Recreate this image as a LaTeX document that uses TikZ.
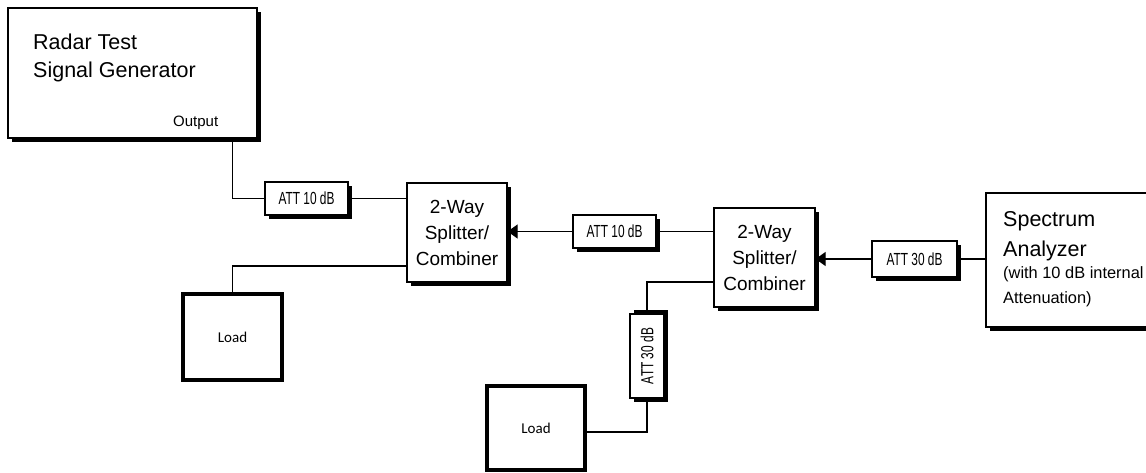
\documentclass[tikz,border=0pt]{standalone}
\usepackage{fontspec}
\setmainfont{Liberation Sans}
\newfontfamily\loadfont{Carlito}
\newfontfamily\attfont[FakeStretch=0.68]{Liberation Sans}
\usetikzlibrary{shadows,arrows.meta}

\begin{document}
\begin{tikzpicture}[x=1pt, y=-1pt,
    box/.style={draw, line width=1.2pt, fill=white, inner sep=0pt,
        drop shadow={opacity=1, fill=black, shadow xshift=4pt, shadow yshift=-4pt}},
    attbox/.style={box, minimum width=83pt, minimum height=33pt,
        font=\attfont\fontsize{17.5}{20}\selectfont},
    splitbox/.style={box, minimum width=100pt, minimum height=99pt, align=center,
        font=\fontsize{19}{26}\selectfont},
    loadbox/.style={draw, line width=3.5pt, fill=white, minimum width=99pt, minimum height=86pt,
        font=\loadfont\fontsize{15}{18}\selectfont},
    wire/.style={line width=1.2pt},
    thickwire/.style={line width=2.5pt},
    feed/.style={wire, -{Triangle[length=10pt,width=14pt]}},
    ]
    \useasboundingbox (0,0) rectangle (1146,472);

    % generator
    \node (gen) [box, minimum width=249pt, minimum height=130pt] at (132.5,73) {};
    \node (gentext) [anchor=north west, align=left, inner sep=0pt,
        font=\fontsize{21.5}{28}\selectfont] at (33,34) {Radar Test\\Signal Generator};
    \node (genout) [anchor=base west, inner sep=0pt, font=\fontsize{15}{18}\selectfont]
        at (173,126) {Output};

    % attenuators and splitters
    \node (att1) [attbox] at (306.5,198.5) {ATT 10 dB};
    \node (split1) [splitbox] at (457,232.5) {2-Way\\Splitter/\\Combiner};
    \node (att2) [attbox] at (614.5,231.5) {ATT 10 dB};
    \node (split2) [splitbox, minimum width=101pt] at (764.5,257.5) {2-Way\\Splitter/\\Combiner};
    \node (att3) [attbox, minimum width=85pt, minimum height=36pt] at (914.5,259) {ATT 30 dB};
    \node (att4) [attbox, rotate=90, minimum width=84pt, minimum height=34pt,
        drop shadow={opacity=1, fill=black, shadow xshift=4pt, shadow yshift=4pt}]
        at (647,356) {ATT 30 dB};

    % analyzer
    \node (spec) [box, minimum width=194pt, minimum height=134pt] at (1083,260) {};
    \node (spectext) [anchor=north west, align=left, inner sep=0pt,
        font=\fontsize{21.5}{30}\selectfont] at (1003,211) {Spectrum\\Analyzer};
    \node (specnote) [anchor=north west, align=left, inner sep=0pt,
        font=\fontsize{16.4}{25}\selectfont] at (1003,266) {(with 10 dB internal\\Attenuation)};

    % loads
    \node (load1) [loadbox] at (232.5,337) {Load};
    \node (load2) [loadbox, minimum width=98pt, minimum height=84pt] at (536,428) {Load};

    % connections
    \draw[wire] ([xshift=-25pt]gen.south east) |- (att1.west);
    \draw[wire] (att1.east) -- (att1.east -| split1.west);
    \draw[feed] (att2.west) -- (att2.west -| split1.east);
    \draw[wire] (att2.east) -- (att2.east -| split2.west);
    \draw[wire] ([yshift=-33.5pt]split1.west) -| (load1.north);
    \draw[feed] (att3.west) -- (att3.west -| split2.east);
    \draw[thickwire] (att3.east) -- (att3.east -| spec.west);
    \draw[wire] ([yshift=-24.5pt]split2.west) -| (att4.east);
    \draw[thickwire] (att4.west) |- ([yshift=-4pt]load2.east);
\end{tikzpicture}
\end{document}
